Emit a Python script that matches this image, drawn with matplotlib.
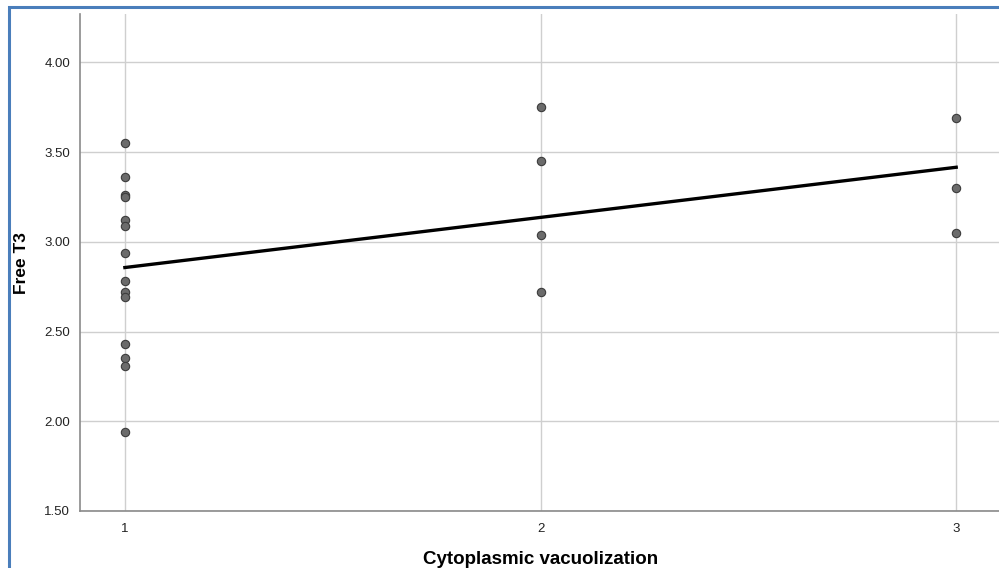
import matplotlib
matplotlib.use("Agg")
import matplotlib.pyplot as plt
import numpy as np
from matplotlib.patches import Rectangle

plt.rcParams["font.family"] = ["Liberation Sans", "DejaVu Sans"]

# Free T3 readings grouped by cytoplasmic vacuolization grade
grade1_t3 = [3.55, 3.36, 3.26, 3.25, 3.12, 3.09, 2.94, 2.78, 2.72, 2.69, 2.43, 2.35, 2.31, 1.94]
grade2_t3 = [3.75, 3.45, 3.04, 2.72]
grade3_t3 = [3.69, 3.30, 3.05]

x_ticks = [1, 2, 3]
y_ticks = [1.5, 2.0, 2.5, 3.0, 3.5, 4.0]

x = np.array([1] * len(grade1_t3) + [2] * len(grade2_t3) + [3] * len(grade3_t3), dtype=float)
y = np.array(grade1_t3 + grade2_t3 + grade3_t3)

fig = plt.figure(figsize=(9.99, 5.68), dpi=100)
ax = fig.add_axes([80 / 999, 1 - 511 / 568, 1 - 80 / 999, (511 - 14) / 568])

# grid behind everything
ax.grid(True, color="#cfcfcf", linewidth=1.0, zorder=0)
ax.set_axisbelow(True)

ax.scatter(x, y, s=36, color="#6b6b6b", edgecolors="#3c3c3c", linewidths=0.8, zorder=3)

# linear fit line across the grade range
slope, intercept = np.polyfit(x, y, 1)
fx = np.array([1.0, 3.0])
ax.plot(fx, intercept + slope * fx, color="black", linewidth=2.4, zorder=4)

ax.set_xlim(0.892, 3.103)
ax.set_ylim(1.5, 4.27)
ax.set_xticks(x_ticks)
ax.set_xticklabels([str(t) for t in x_ticks])
ax.set_yticks(y_ticks)
ax.set_yticklabels([f"{t:.2f}" for t in y_ticks])
ax.tick_params(axis="both", length=0, labelsize=9.5, colors="#222222")
ax.tick_params(axis="x", pad=9)
ax.tick_params(axis="y", pad=7)

for side in ["top", "right"]:
    ax.spines[side].set_visible(False)
for side in ["left", "bottom"]:
    ax.spines[side].set_color("#8a8a8a")
    ax.spines[side].set_linewidth(1.2)

fig.text(21 / 999, 1 - 263 / 568, "Free T3", rotation=90, ha="center", va="center",
         fontsize=12.5, fontweight="bold")
fig.text(541 / 999, 1 - 559 / 568, "Cytoplasmic vacuolization", ha="center", va="center",
         fontsize=13.5, fontweight="bold")

# blue frame around the picture (cropped on the right and bottom)
fig.patches.append(Rectangle((8.5 / 999, -0.1), 1.2, 1 - 7 / 568 + 0.1,
                             transform=fig.transFigure, fill=False,
                             edgecolor="#4a7ebb", linewidth=2.2, zorder=10))

fig.savefig("out.png", dpi=100)
